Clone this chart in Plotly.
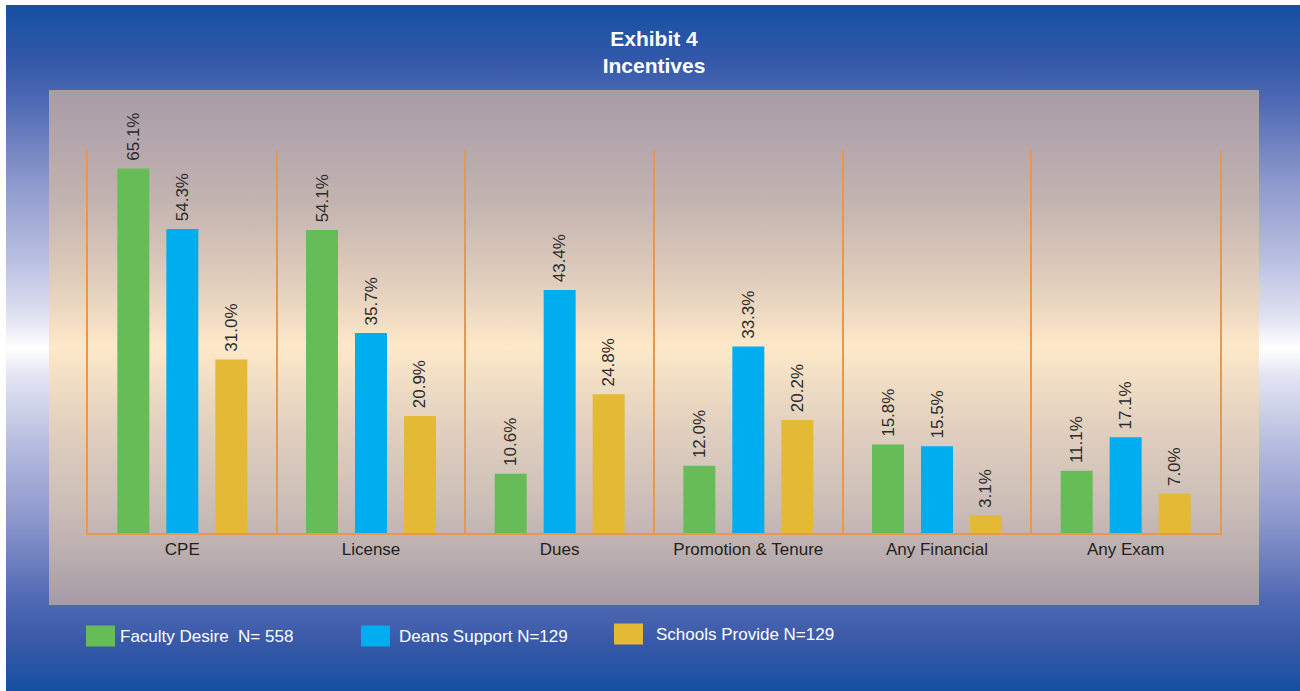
import base64
import plotly.graph_objects as go

# ---------------- data ----------------
categories = ["CPE", "License", "Dues", "Promotion & Tenure", "Any Financial", "Any Exam"]
series_names = ["Faculty Desire  N= 558", "Deans Support N=129", "Schools Provide N=129"]
faculty_desire = [65.1, 54.1, 10.6, 12.0, 15.8, 11.1]
deans_support = [54.3, 35.7, 43.4, 33.3, 15.5, 17.1]
schools_provide = [31.0, 20.9, 24.8, 20.2, 3.1, 7.0]

# ---------------- style / layout ----------------
W, H = 1300, 691
ML, MR, MT, MB = 88, 80, 150, 158
PW, PH = W - ML - MR, H - MT - MB
colors = ["#66bd58", "#00aeef", "#e4b935"]
orange = "#e8974e"
font_family = "Liberation Sans Narrow, Arial Narrow, Liberation Sans, Arial, sans-serif"
text_dark = "#2b2b2b"


def px_x(px):
    return (px - ML) / PW


def px_y(py):
    return (H - MB - py) / PH


def grad_stops(stops, y0, y1):
    out = []
    for y, c in stops:
        out.append('<stop offset="%.4f" stop-color="%s"/>' % ((y - y0) / (y1 - y0), c))
    return "".join(out)


bg_stops = [(5, "#1550a3"), (60, "#3358a9"), (100, "#4d69b3"), (180, "#8c97cc"),
            (260, "#b9bfe0"), (320, "#e2e4f3"), (348, "#ffffff"), (376, "#e2e4f3"),
            (440, "#b9bfe0"), (520, "#8c97cc"), (600, "#4f69b4"), (640, "#3a5aa8"),
            (691, "#1450a2")]
pn_stops = [(90, "#a79ba8"), (200, "#c3b3b0"), (280, "#e0cdbc"), (347, "#fde8c8"),
            (420, "#e4d2c0"), (500, "#cdbfb8"), (560, "#b9acae"), (605, "#a59aa8")]

svg = (
    '<svg xmlns="http://www.w3.org/2000/svg" width="1300" height="691" '
    'viewBox="0 0 1300 691" preserveAspectRatio="none"><defs>'
    '<linearGradient id="bg" x1="0" y1="5" x2="0" y2="691" gradientUnits="userSpaceOnUse">'
    + grad_stops(bg_stops, 5, 691) +
    '</linearGradient>'
    '<linearGradient id="pn" x1="0" y1="90" x2="0" y2="605" gradientUnits="userSpaceOnUse">'
    + grad_stops(pn_stops, 90, 605) +
    '</linearGradient></defs>'
    '<rect x="0" y="0" width="1300" height="691" fill="#ffffff"/>'
    '<rect x="6" y="5" width="1294" height="686" fill="url(#bg)"/>'
    '<rect x="49" y="90" width="1210" height="515" fill="url(#pn)"/>'
    '</svg>'
)
svg_uri = "data:image/svg+xml;base64," + base64.b64encode(svg.encode()).decode()

fig = go.Figure()
for name, vals, col in zip(series_names, [faculty_desire, deans_support, schools_provide], colors):
    fig.add_trace(go.Bar(
        x=categories, y=vals, name=name, marker=dict(color=col, line=dict(width=0)),
        texttemplate="\u00a0%{y:.1f}%", textposition="outside", textangle=-90,
        textfont=dict(family=font_family, size=17, color=text_dark),
        constraintext="none", cliponaxis=False, showlegend=False,
    ))

# custom legend (large swatches)
legend_swatch_x = [86, 361, 614]
legend_text_x = [118, 397, 654]
legend_y = [636, 636, 634]
shapes = []
annotations = []
for name, col, sx, tx, ly in zip(series_names, colors, legend_swatch_x, legend_text_x, legend_y):
    shapes.append(dict(type="rect", xref="paper", yref="paper",
                       x0=px_x(sx), x1=px_x(sx + 29), y0=px_y(ly - 10.5), y1=px_y(ly + 10.5),
                       fillcolor=col, line=dict(width=0), layer="above"))
    annotations.append(dict(text=name, xref="paper", yref="paper", x=px_x(tx), y=px_y(ly),
                            xanchor="left", yanchor="middle", showarrow=False,
                            font=dict(family=font_family, size=17, color="#ffffff")))

fig.update_layout(
    width=W, height=H,
    margin=dict(l=ML, r=MR, t=MT, b=MB, pad=0),
    paper_bgcolor="rgba(0,0,0,0)", plot_bgcolor="rgba(0,0,0,0)",
    barmode="group", bargap=0.221, bargroupgap=0.347,
    title=dict(text="<b>Exhibit 4<br>Incentives</b>", x=654 / W, xanchor="center",
               y=1 - 46 / H, yanchor="top", yref="container",
               font=dict(family=font_family, size=21, color="#ffffff")),
    images=[dict(source=svg_uri, xref="paper", yref="paper", x=-ML / PW, y=1 + MT / PH,
                 sizex=W / PW, sizey=H / PH, xanchor="left", yanchor="top",
                 sizing="stretch", layer="below")],
    shapes=shapes, annotations=annotations,
    xaxis=dict(type="category", tickson="boundaries", showgrid=True, gridcolor=orange,
               gridwidth=2, showline=True, linecolor=orange, linewidth=2, ticks="",
               tickfont=dict(family=font_family, size=17, color="#231f20"),
               fixedrange=True),
    yaxis=dict(range=[0, 68.4], showgrid=False, zeroline=False, showticklabels=False,
               showline=True, mirror=True, linecolor=orange, linewidth=2, ticks="",
               fixedrange=True),
)

fig.write_html("out.html", config={"displayModeBar": False})
